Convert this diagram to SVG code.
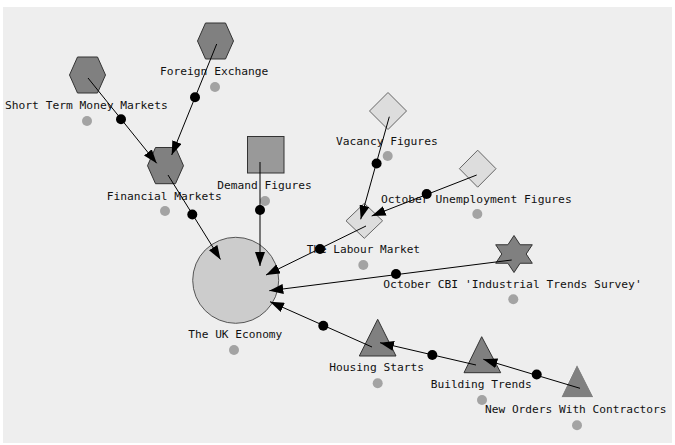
<svg xmlns="http://www.w3.org/2000/svg" width="675" height="445" viewBox="0 0 675 445">
<style>
.bg{fill:#eeeeee}
.hex{fill:#808080;stroke:#333333;stroke-width:1}
.sq{fill:#999999;stroke:#333333;stroke-width:1}
.dia{fill:#dddddd;stroke:#666666;stroke-width:1}
.tri{fill:#808080;stroke:#333333;stroke-width:1}
.circ{fill:#cccccc;stroke:#555555;stroke-width:1}
.gdot{fill:#a3a3a3}
.lbl{font-family:"DejaVu Sans Mono","Liberation Mono",monospace;font-size:11.3px;fill:#111111}
.edge{stroke:#000000;stroke-width:1;fill:none;marker-end:url(#arr)}
.bdot{fill:#000000}
</style>
<defs>
<marker id="arr" markerUnits="userSpaceOnUse" markerWidth="14" markerHeight="10" viewBox="0 0 14 10" refX="14" refY="5" orient="auto">
<path d="M0,0 L14,5 L0,10 z" fill="#000000"/>
</marker>
</defs>
<rect class="bg" x="3" y="7" width="669" height="436"/>

<g id="node-uk-economy">
<circle class="circ" cx="235.7" cy="280.3" r="43"/>
<text class="lbl" x="188.3" y="338" textLength="94" lengthAdjust="spacingAndGlyphs">The UK Economy</text>
<circle class="gdot" cx="234" cy="350" r="5"/>
</g>

<g id="node-short-term-money-markets">
<polygon class="hex" points="69.5,75 77.5,57 97.5,57 105.5,75 97.5,93 77.5,93"/>
<text class="lbl" x="5" y="109" textLength="162.7" lengthAdjust="spacingAndGlyphs">Short Term Money Markets</text>
<circle class="gdot" cx="87" cy="121" r="5"/>
</g>

<g id="node-foreign-exchange">
<polygon class="hex" points="197.5,41 205.5,23 225.5,23 233.5,41 225.5,59 205.5,59"/>
<text class="lbl" x="160" y="75" textLength="108.3" lengthAdjust="spacingAndGlyphs">Foreign Exchange</text>
<circle class="gdot" cx="215" cy="87" r="5"/>
</g>

<g id="node-financial-markets">
<polygon class="hex" points="147.5,165.7 155.5,147.5 175.5,147.5 183.5,165.7 175.5,183.7 155.5,183.7"/>
<text class="lbl" x="106.7" y="200" textLength="115" lengthAdjust="spacingAndGlyphs">Financial Markets</text>
<circle class="gdot" cx="165" cy="211" r="5"/>
</g>

<g id="node-demand-figures">
<rect class="sq" x="247.5" y="136.5" width="36.5" height="36.5"/>
<text class="lbl" x="217.3" y="188.5" textLength="94.4" lengthAdjust="spacingAndGlyphs">Demand Figures</text>
<circle class="gdot" cx="265" cy="201" r="5"/>
</g>

<g id="node-vacancy-figures">
<polygon class="dia" points="388,92.5 406.5,111 388,129.5 369.5,111"/>
<text class="lbl" x="336" y="145" textLength="101.7" lengthAdjust="spacingAndGlyphs">Vacancy Figures</text>
<circle class="gdot" cx="387.7" cy="156" r="5"/>
</g>

<g id="node-october-unemployment-figures">
<polygon class="dia" points="477.7,150.2 496,168.7 477.7,187.2 459.4,168.7"/>
<text class="lbl" x="381" y="202.7" textLength="190.7" lengthAdjust="spacingAndGlyphs">October Unemployment Figures</text>
<circle class="gdot" cx="477.3" cy="214" r="5"/>
</g>

<g id="node-labour-market">
<polygon class="dia" points="364.3,203.3 382.6,220.8 364.3,238.3 346,220.8"/>
<text class="lbl" x="306.7" y="253" textLength="113.3" lengthAdjust="spacingAndGlyphs">The Labour Market</text>
<circle class="gdot" cx="363.3" cy="265" r="5"/>
</g>

<g id="node-october-cbi">
<polygon class="tri" points="514,235.5 520.1,244.75 532.3,244.75 526.2,254 532.3,263.25 520.1,263.25 514,272.5 507.9,263.25 495.7,263.25 501.8,254 495.7,244.75 507.9,244.75"/>
<text class="lbl" x="383.3" y="287.7" textLength="258.4" lengthAdjust="spacingAndGlyphs">October CBI 'Industrial Trends Survey'</text>
<circle class="gdot" cx="513.3" cy="299.3" r="5"/>
</g>

<g id="node-housing-starts">
<polygon class="tri" points="377.7,319.3 396,356 359.3,356"/>
<text class="lbl" x="329.3" y="371.3" textLength="94.7" lengthAdjust="spacingAndGlyphs">Housing Starts</text>
<circle class="gdot" cx="377.7" cy="383.3" r="5"/>
</g>

<g id="node-building-trends">
<polygon class="tri" points="481.7,336.7 500.7,372.7 464,372.7"/>
<text class="lbl" x="430.7" y="388" textLength="101" lengthAdjust="spacingAndGlyphs">Building Trends</text>
<circle class="gdot" cx="482" cy="400" r="5"/>
</g>

<g id="node-new-orders-with-contractors">
<polygon class="tri" points="577,364 594,397.7 560.7,397.7" style="stroke:#f7f7f7"/>
<text class="lbl" x="485" y="413" textLength="181.5" lengthAdjust="spacingAndGlyphs">New Orders With Contractors</text>
<circle class="gdot" cx="577" cy="425.3" r="5"/>
</g>

<g id="connectors">
<path class="edge" d="M88,78 L156.7,163.3"/>
<circle class="bdot" cx="121" cy="119.3" r="5"/>
<path class="edge" d="M216.7,44 L171.7,155"/>
<circle class="bdot" cx="195" cy="97.3" r="5"/>
<path class="edge" d="M168,175 L220.5,259.5"/>
<circle class="bdot" cx="192.3" cy="214.5" r="5"/>
<path class="edge" d="M260,162 L260,266"/>
<circle class="bdot" cx="260" cy="210" r="5"/>
<path class="edge" d="M389.3,116.7 L360.7,219.3"/>
<circle class="bdot" cx="376.6" cy="163.5" r="5"/>
<path class="edge" d="M476.7,175 L371.7,216"/>
<circle class="bdot" cx="426.7" cy="194" r="5"/>
<path class="edge" d="M366,226 L266,275"/>
<circle class="bdot" cx="320" cy="249" r="5"/>
<path class="edge" d="M511.7,260 L269.3,290.7"/>
<circle class="bdot" cx="396" cy="274" r="5"/>
<path class="edge" d="M372,347 L270,301.7"/>
<circle class="bdot" cx="323.3" cy="325.7" r="5"/>
<path class="edge" d="M476,365 L380,342.7"/>
<circle class="bdot" cx="432.3" cy="355" r="5"/>
<path class="edge" d="M580,388.3 L483.3,359.3"/>
<circle class="bdot" cx="536.7" cy="374.5" r="5"/>
</g>
</svg>
